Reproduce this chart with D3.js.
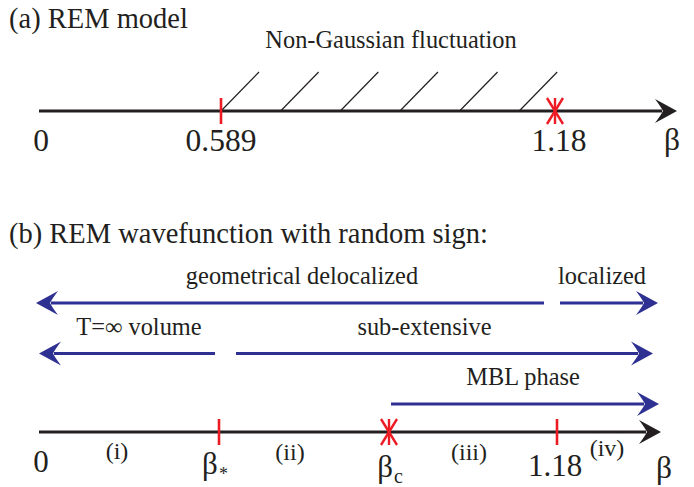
<!DOCTYPE html>
<html><head><meta charset="utf-8">
<script src="https://cdn.jsdelivr.net/npm/d3@7"></script>
<style>body{margin:0;background:#fff}svg{display:block}</style>
</head><body>
<svg id="chart" width="694" height="487"></svg>
<script>
// ---------------- data ----------------
const titles = ["(a) REM model", "(b) REM wavefunction with random sign:"];
const hatchLabel = "Non-Gaussian fluctuation";
const axisVar = "β";

// panel (a): β values on the axis
const betaA = [0, 0.589, 1.18];
const betaALabels = ["0", "0.589", "1.18"];
const betaAKind = ["origin", "crossover", "transition"];

// panel (b): ordered markers on the β axis
const markersB = ["0", "β*", "βc", "1.18"];
const markersBKind = ["origin", "crossover", "transition", "crossover"];
const regionsB = ["(i)", "(ii)", "(iii)", "(iv)"];

// panel (b): phase arrows
const arrowLabels = ["geometrical delocalized", "localized", "T=∞ volume", "sub-extensive", "MBL phase"];
const arrowFrom   = ["1.18", "1.18", "β*", "β*", "βc"];
const arrowDir    = ["left", "right", "left", "right", "right"];
const arrowRow    = [0, 0, 1, 1, 2];

// ---------------- layout ----------------
const C = {black: "#231f20", blue: "#2e3192", red: "#ed1c24"};
const FONT = "'Liberation Serif','Times New Roman',serif";
const svg = d3.select("#chart");

const xa = d3.scaleLinear().domain(betaA).range([41, 221, 555]);
const xb = d3.scaleLinear().domain(d3.range(markersB.length)).range([41, 219, 389, 557]);
const rowY = d3.scaleLinear().domain([0, 2]).range([303, 404]);

const axisAY = 111, axisBY = 432;
const axisStart = 39, axisAEnd = 677, axisBEnd = 661;

function head(g, x, y, dir, color) {
  const s = dir === "left" ? -1 : 1;
  g.append("path")
    .attr("d", `M0,0 L-22,-12 Q-16,-4 -14,0 Q-16,4 -22,12 Z`)
    .attr("transform", `translate(${x},${y}) scale(${s},1)`)
    .attr("fill", color);
}

function star(g, x, y) {
  const p = [[0,-13,0,13],[-8,-13,8,13],[8,-13,-8,13]];
  g.selectAll(null).data(p).join("line")
    .attr("x1", d => x + d[0]).attr("y1", d => y + d[1])
    .attr("x2", d => x + d[2]).attr("y2", d => y + d[3])
    .attr("stroke", C.red).attr("stroke-width", 2.4);
}
function bar(g, x, y) {
  g.append("line").attr("x1", x).attr("x2", x).attr("y1", y - 13).attr("y2", y + 13)
    .attr("stroke", C.red).attr("stroke-width", 2.6);
}

function axisLine(g, y, x2) {
  g.append("line").attr("x1", axisStart).attr("x2", x2 - 15).attr("y1", y).attr("y2", y)
    .attr("stroke", C.black).attr("stroke-width", 3);
  head(g, x2, y, "right", C.black);
}

const txt = (g, s, x, y, size, anchor) => g.append("text").text(s)
  .attr("x", x).attr("y", y).attr("font-family", FONT).attr("font-size", size)
  .attr("fill", C.black).attr("text-anchor", anchor || "middle");

// ---------------- panel (a) ----------------
const ga = svg.append("g");
txt(ga, titles[0], 9, 28, 28.5, "start");
txt(ga, hatchLabel, 391, 48, 24.4);

// hatch over the non-Gaussian range
const hStart = xa(betaA[1]);
const hStep = (xa(betaA[2]) - hStart) / 5.6;
ga.selectAll("line.hatch").data(d3.range(6)).join("line").attr("class", "hatch")
  .attr("x1", i => hStart + i * hStep).attr("y1", axisAY)
  .attr("x2", i => hStart + i * hStep + 38).attr("y2", axisAY - 39)
  .attr("stroke", C.black).attr("stroke-width", 1.2);

axisLine(ga, axisAY, axisAEnd);
betaA.forEach((b, i) => {
  if (betaAKind[i] === "crossover") bar(ga, xa(b), axisAY);
  if (betaAKind[i] === "transition") star(ga, xa(b), axisAY);
});
const labAdx = [0, 0, 4];
betaALabels.forEach((l, i) => txt(ga, l, xa(betaA[i]) + labAdx[i], 151, 31.5));
txt(ga, axisVar, 672, 150, 31.5);

// ---------------- panel (b) ----------------
const gb = svg.append("g");
txt(gb, titles[1], 9, 243, 28.5, "start");

// arrows
const gapStart = [13, 3, 4, 17, 2];
const tip = [36, 658, 39, 653, 659];
const labelDx = [12, -7, 12, -20, -2];
arrowLabels.forEach((lab, i) => {
  const xm = xb(markersB.indexOf(arrowFrom[i]));
  const left = arrowDir[i] === "left";
  const x0 = left ? xm - gapStart[i] : xm + gapStart[i];
  const x1 = tip[i];
  const y = rowY(arrowRow[i]);
  gb.append("line").attr("x1", x0).attr("x2", left ? x1 + 15 : x1 - 15)
    .attr("y1", y).attr("y2", y).attr("stroke", C.blue).attr("stroke-width", 2.8);
  head(gb, x1, y, arrowDir[i], C.blue);
  txt(gb, lab, (x0 + x1) / 2 + labelDx[i], y - 19, 24.4);
});

axisLine(gb, axisBY, axisBEnd);
markersB.forEach((m, i) => {
  if (markersBKind[i] === "crossover") bar(gb, xb(i), axisBY);
  if (markersBKind[i] === "transition") star(gb, xb(i), axisBY);
});

// region labels
const regDx = [-13, -14, -4, -2], regY = [459, 460, 460, 456];
regionsB.forEach((r, i) => {
  const a = xb(i), b = i < markersB.length - 1 ? xb(i + 1) : axisBEnd;
  txt(gb, r, (a + b) / 2 + regDx[i], regY[i], 24);
});

// marker labels (with subscripts)
const mDx = [0, -4, 1, -2], mY = [472, 474, 477, 476];
markersB.forEach((m, i) => {
  const t = gb.append("text").attr("x", xb(i) + mDx[i]).attr("y", mY[i])
    .attr("font-family", FONT).attr("font-size", 31).attr("fill", C.black)
    .attr("text-anchor", "middle");
  if (m.startsWith("β") && m.length > 1) {
    t.append("tspan").text("β");
    t.append("tspan").text(m.slice(1)).attr("font-size", m.slice(1) === "*" ? 18 : 20)
      .attr("dy", m.slice(1) === "*" ? 6 : 6).attr("dx", 1);
  } else t.text(m);
});
txt(gb, axisVar, 664, 478, 31.5);
</script>
</body></html>
